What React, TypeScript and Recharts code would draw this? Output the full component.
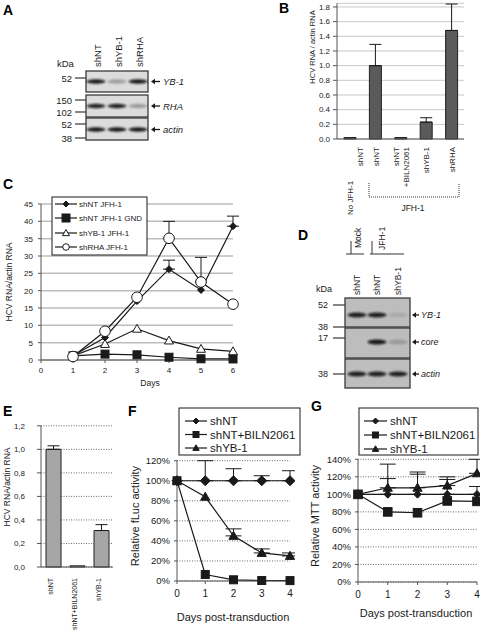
import React from 'react';
import { BarChart, Bar, LineChart, Line, XAxis, YAxis, CartesianGrid, ErrorBar } from 'recharts';

const FONT = '"Liberation Sans", Arial, Helvetica, sans-serif';
const INK = '#1a1a1a';

// ---------------- Panel A (western blot) ----------------
const aLanes = ['shNT', 'shYB-1', 'shRHA'];
const aTargets = ['YB-1', 'RHA', 'actin'];
const aIntensity = [
  [0.95, 0.3, 0.95],
  [0.9, 0.9, 0.3],
  [0.95, 0.95, 0.95],
];
const aMarkerLabels = ['52', '150', '102', '52', '38'];

// ---------------- Panel B ----------------
const bKeys = ['noJFH_shNT', 'shNT', 'shNT_BILN2061', 'shYB-1', 'shRHA'];
const bLabelLines = [['shNT'], ['shNT'], ['shNT', '+BILN2061'], ['shYB-1'], ['shRHA']];
const bValues = [0.02, 1.0, 0.02, 0.23, 1.48];
const bErrors = [0, 0.29, 0, 0.06, 0.36];
const bTicks = [0, 0.2, 0.4, 0.6, 0.8, 1.0, 1.2, 1.4, 1.6, 1.8];
const bNoVirusLabel = 'No JFH-1';
const bGroupLabel = 'JFH-1';
const bYTitle = 'HCV RNA / actin RNA';

// ---------------- Panel C ----------------
const cDays = [1, 2, 3, 4, 5, 6];
const cShNT = [1.2, 6.5, 17.0, 26.2, 20.2, 38.6];
const cShNTErr = [0, 0, 0, 2.6, 0, 2.9];
const cGND = [1.2, 1.7, 1.5, 0.8, 0.35, 0.3];
const cShYB1 = [1.2, 4.6, 9.0, 5.6, 3.2, 2.5];
const cShRHA = [1.0, 8.3, 18.1, 35.1, 22.5, 16.1];
const cShRHAErr = [0, 0, 0, 4.9, 7.1, 0];
const cYTicks = [0, 5, 10, 15, 20, 25, 30, 35, 40, 45];
const cXTicks = [0, 1, 2, 3, 4, 5, 6];
const cLegendLabels = ['shNT JFH-1', 'shNT JFH-1 GND', 'shYB-1 JFH-1', 'shRHA JFH-1'];
const cYTitle = 'HCV RNA/actin RNA';
const cXTitle = 'Days';

// ---------------- Panel D (western blot) ----------------
const dLanes = ['shNT', 'shNT', 'shYB-1'];
const dGroups = ['Mock', 'JFH-1'];
const dTargets = ['YB-1', 'core', 'actin'];
const dIntensity = [
  [0.9, 0.9, 0.1],
  [0, 0.95, 0.2],
  [0.9, 0.9, 0.9],
];
const dMarkerLabels = ['52', '38', '17', '38'];

// ---------------- Panel E ----------------
const eKeys = ['shNT', 'shNT+BILN2061', 'shYB-1'];
const eValues = [1.0, 0.01, 0.31];
const eErrors = [0.03, 0, 0.05];
const eTicks = [0, 0.2, 0.4, 0.6, 0.8, 1.0, 1.2];
const eYTitle = 'HCV RNA/actin RNA';

// ---------------- Panel F ----------------
const fDays = [0, 1, 2, 3, 4];
const fShNT = [100, 100, 100, 100, 100];
const fShNTErr = [0, 20, 12, 5, 10];
const fBILN = [100, 6.5, 1.2, 0.5, 0.4];
const fShYB1 = [100, 84, 45, 28, 25];
const fShYB1Err = [0, 0, 7, 4, 3];
const fYTicks = [0, 20, 40, 60, 80, 100, 120];
const fYTitle = 'Relative fLuc activity';

// ---------------- Panel G ----------------
const gDays = [0, 1, 2, 3, 4];
const gShNT = [100, 100, 100, 100, 100];
const gShNTErr = [0, 18, 23, 17, 9];
const gBILN = [100, 80, 79, 92.5, 92];
const gShYB1 = [100, 107.5, 107.5, 110, 124];
const gShYB1Err = [0, 27, 18, 10, 16];
const gYTicks = [0, 20, 40, 60, 80, 100, 120, 140];
const gYTitle = 'Relative MTT activity';

const fgXTicks = [0, 1, 2, 3, 4];
const fgXTitle = 'Days post-transduction';
const fgLegendLabels = ['shNT', 'shNT+BILN2061', 'shYB-1'];

// ---------------- data tables ----------------
const errOrNull = (e: number) => (e ? [0, e] : null);

const bData = bKeys.map((k, i) => ({ name: k, value: bValues[i], err: errOrNull(bErrors[i]) }));
const eData = eKeys.map((k, i) => ({ name: k, value: eValues[i], err: errOrNull(eErrors[i]) }));
const cData = cDays.map((d, i) => ({
  day: d,
  nt: cShNT[i],
  ntErr: errOrNull(cShNTErr[i]),
  gnd: cGND[i],
  yb: cShYB1[i],
  rha: cShRHA[i],
  rhaErr: errOrNull(cShRHAErr[i]),
}));
const fData = fDays.map((d, i) => ({
  day: d,
  nt: fShNT[i],
  ntErr: errOrNull(fShNTErr[i]),
  biln: fBILN[i],
  yb: fShYB1[i],
  ybErr: errOrNull(fShYB1Err[i]),
}));
const gData = gDays.map((d, i) => ({
  day: d,
  nt: gShNT[i],
  ntErr: errOrNull(gShNTErr[i]),
  biln: gBILN[i],
  yb: gShYB1[i],
  ybErr: errOrNull(gShYB1Err[i]),
}));

// ---------------- markers ----------------
type Kind = 'diamond' | 'square' | 'triangle' | 'circle';

function MarkerShape({ kind, cx, cy, r, filled }: { kind: Kind; cx: number; cy: number; r: number; filled: boolean }) {
  const fill = filled ? INK : '#fff';
  const sw = 1;
  if (kind === 'diamond') {
    return <polygon points={`${cx},${cy - r} ${cx + r},${cy} ${cx},${cy + r} ${cx - r},${cy}`} fill={fill} stroke={INK} strokeWidth={sw} />;
  }
  if (kind === 'square') {
    return <rect x={cx - r} y={cy - r} width={2 * r} height={2 * r} fill={fill} stroke={INK} strokeWidth={sw} />;
  }
  if (kind === 'triangle') {
    return (
      <polygon
        points={`${cx},${cy - r} ${cx + r},${cy + r * 0.75} ${cx - r},${cy + r * 0.75}`}
        fill={fill}
        stroke={INK}
        strokeWidth={sw}
      />
    );
  }
  return <circle cx={cx} cy={cy} r={r} fill={fill} stroke={INK} strokeWidth={sw} />;
}

function makeDot(kind: Kind, r: number, filled: boolean) {
  return (p: any) => {
    const { cx, cy, index } = p;
    if (cx == null || cy == null) return <g key={`e${index}`} />;
    return (
      <g key={`d${index}`}>
        <MarkerShape kind={kind} cx={cx} cy={cy} r={r} filled={filled} />
      </g>
    );
  };
}

// ---------------- custom ticks ----------------
const BTick = (props: any) => {
  const { x, y, payload } = props;
  const i = payload.index;
  const lines = bLabelLines[i];
  const fs = 8;
  const items: any[] = [];
  if (i === 0) {
    items.push({ t: lines[0], x: x + 11, y, anchor: 'end' });
    items.push({ t: bNoVirusLabel, x: x + 1, y: y + 68, anchor: 'start' });
  } else if (lines.length === 2) {
    items.push({ t: lines[0], x: x - 4, y, anchor: 'end' });
    items.push({ t: lines[1], x: x + 6, y, anchor: 'end' });
  } else {
    items.push({ t: lines[0], x: x + 1, y, anchor: 'end' });
  }
  return (
    <g>
      {items.map((it, k) => (
        <text
          key={k}
          x={it.x}
          y={it.y}
          transform={`rotate(-90 ${it.x} ${it.y})`}
          textAnchor={it.anchor}
          dominantBaseline="central"
          fontSize={fs}
          fill={INK}
          fontFamily={FONT}
        >
          {it.t}
        </text>
      ))}
    </g>
  );
};

const ETick = (props: any) => {
  const { x, y, payload } = props;
  const tx = x - 3;
  return (
    <text
      x={tx}
      y={y}
      transform={`rotate(-90 ${tx} ${y})`}
      textAnchor="end"
      dominantBaseline="central"
      fontSize={7}
      fill={INK}
      fontFamily={FONT}
    >
      {payload.value}
    </text>
  );
};

// ---------------- overlay helpers ----------------
function Legend({ x, y, w, h, rows, labels, kinds, fills, rs, lineX1, lineX2, textX, fs }: any) {
  return (
    <g>
      <rect x={x} y={y} width={w} height={h} fill="#fff" stroke={INK} strokeWidth={1} />
      {labels.map((lab: string, i: number) => (
        <g key={lab}>
          <line x1={lineX1} x2={lineX2} y1={rows[i]} y2={rows[i]} stroke={INK} strokeWidth={1.2} />
          <MarkerShape kind={kinds[i]} cx={(lineX1 + lineX2) / 2} cy={rows[i]} r={rs[i]} filled={fills[i]} />
          <text x={textX} y={rows[i]} dominantBaseline="central" fontSize={fs} fill={INK} fontFamily={FONT}>
            {lab}
          </text>
        </g>
      ))}
    </g>
  );
}

function Arrow({ x1, x2, y }: { x1: number; x2: number; y: number }) {
  return (
    <g>
      <line x1={x1} x2={x2 + 3} y1={y} y2={y} stroke={INK} strokeWidth={1.3} />
      <polygon points={`${x2},${y} ${x2 + 4},${y - 2.8} ${x2 + 4},${y + 2.8}`} fill={INK} />
    </g>
  );
}

function Blot({ boxX, boxW, rowY, rowH, bandY, laneX, intensity, bg, bandW, bandH }: any) {
  return (
    <g>
      {rowY.map((ry: number, r: number) => (
        <g key={r}>
          <rect x={boxX} y={ry} width={boxW} height={rowH[r]} fill={bg} stroke="#3a3a3a" strokeWidth={1.3} />
          {laneX.map((lx: number, j: number) =>
            intensity[r][j] > 0 ? (
              <ellipse
                key={j}
                cx={lx}
                cy={bandY[r]}
                rx={bandW / 2}
                ry={bandH / 2}
                fill="#111"
                opacity={intensity[r][j]}
                filter="url(#blotBlur)"
              />
            ) : null
          )}
        </g>
      ))}
    </g>
  );
}

const rotText = (t: string, x: number, y: number, anchor: string, fs: number, extra: any = {}) => (
  <text
    x={x}
    y={y}
    transform={`rotate(-90 ${x} ${y})`}
    textAnchor={anchor as any}
    dominantBaseline="central"
    fontSize={fs}
    fill={INK}
    fontFamily={FONT}
    {...extra}
  >
    {t}
  </text>
);

function Overlay() {
  // Panel A layout
  const aLaneX = [96, 117, 138];
  const aRowY = [71, 95, 118];
  const aRowH = [21, 22, 22];
  const aBandY = [81.5, 106, 129.5];
  const aMarkerY = [78, 100, 112, 124, 138];
  // Panel D layout
  const dLaneX = [357, 377, 398];
  const dRowY = [298, 328, 359];
  const dRowH = [29, 30, 29];
  const dBandY = [315, 342, 374];
  const dMarkerY = [305, 327, 338, 374];

  return (
    <svg width={480} height={634} style={{ position: 'absolute', left: 0, top: 0, pointerEvents: 'none' }} fontFamily={FONT}>
      <defs>
        <filter id="blotBlur" x="-50%" y="-100%" width="200%" height="300%">
          <feGaussianBlur stdDeviation="1.1" />
        </filter>
      </defs>

      {/* panel letters */}
      {[
        ['A', 3, 15],
        ['B', 279, 13],
        ['C', 3, 189],
        ['D', 298, 240],
        ['E', 3, 416],
        ['F', 128, 416],
        ['G', 311, 411],
      ].map(([t, x, y]: any) => (
        <text key={t} x={x} y={y} fontSize={14} fontWeight="bold" fill="#000" fontFamily={FONT}>
          {t}
        </text>
      ))}

      {/* ---- Panel A ---- */}
      {aLanes.map((l, j) => rotText(l, aLaneX[j] + 1, 67, 'start', 9.5, { key: 'al' + j }))}
      <text x={57} y={67} fontSize={9.5} fill={INK}>kDa</text>
      {aMarkerLabels.map((m, k) => (
        <g key={'am' + k}>
          <text x={72} y={aMarkerY[k]} textAnchor="end" dominantBaseline="central" fontSize={9.5} fill={INK}>
            {m}
          </text>
          <line x1={75} x2={86} y1={aMarkerY[k]} y2={aMarkerY[k]} stroke="#444" strokeWidth={1.3} />
        </g>
      ))}
      <Blot boxX={86} boxW={62} rowY={aRowY} rowH={aRowH} bandY={aBandY} laneX={aLaneX} intensity={aIntensity} bg="#dcdcdc" bandW={19} bandH={4.5} />
      {aTargets.map((t, k) => (
        <g key={'at' + k}>
          <Arrow x1={160} x2={151} y={aBandY[k]} />
          <text x={163} y={aBandY[k]} dominantBaseline="central" fontSize={9.5} fontStyle="italic" fill={INK}>
            {t}
          </text>
        </g>
      ))}

      {/* ---- Panel B extras ---- */}
      {rotText(bYTitle, 312, 47, 'middle', 7.5)}
      <path d="M369,183 V197 H459 V183" fill="none" stroke="#333" strokeWidth={1} strokeDasharray="1 1" />
      <text x={413} y={208} textAnchor="middle" dominantBaseline="central" fontSize={8.5} fill={INK}>
        {bGroupLabel}
      </text>

      {/* ---- Panel C extras ---- */}
      {rotText(cYTitle, 9, 282, 'middle', 8.5)}
      <text x={150} y={383} textAnchor="middle" dominantBaseline="central" fontSize={8.5} fill={INK}>
        {cXTitle}
      </text>
      <Legend
        x={52}
        y={197}
        w={95}
        h={58}
        rows={[204, 218, 233, 247]}
        labels={cLegendLabels}
        kinds={['diamond', 'square', 'triangle', 'circle']}
        fills={[true, true, false, false]}
        rs={[3, 4, 3.5, 3.3]}
        lineX1={55}
        lineX2={77}
        textX={79}
        fs={8}
      />

      {/* ---- Panel D ---- */}
      {rotText(dGroups[0], 358, 248, 'start', 8.5, { key: 'dg0' })}
      {rotText(dGroups[1], 382, 250, 'start', 8.5, { key: 'dg1' })}
      <path d="M351,241 V254 M346,254 H364" fill="none" stroke="#333" strokeWidth={1} />
      <path d="M372,241 V254 M370,254 H404" fill="none" stroke="#333" strokeWidth={1} />
      {dLanes.map((l, j) => rotText(l, dLaneX[j], 295, 'start', 8.5, { key: 'dl' + j }))}
      <text x={316} y={292} fontSize={9} fill={INK}>kDa</text>
      {dMarkerLabels.map((m, k) => (
        <g key={'dm' + k}>
          <text x={328} y={dMarkerY[k]} textAnchor="end" dominantBaseline="central" fontSize={9} fill={INK}>
            {m}
          </text>
          <line x1={333} x2={345} y1={dMarkerY[k]} y2={dMarkerY[k]} stroke="#444" strokeWidth={1.3} />
        </g>
      ))}
      <Blot boxX={345} boxW={65} rowY={dRowY} rowH={dRowH} bandY={dBandY} laneX={dLaneX} intensity={dIntensity} bg="#bdbdbd" bandW={19} bandH={5} />
      {dTargets.map((t, k) => (
        <g key={'dt' + k}>
          <Arrow x1={419} x2={412} y={dBandY[k]} />
          <text x={421} y={dBandY[k]} dominantBaseline="central" fontSize={9} fontStyle="italic" fill={INK}>
            {t}
          </text>
        </g>
      ))}

      {/* ---- Panel E extras ---- */}
      {rotText(eYTitle, 7, 487, 'middle', 8.5)}

      {/* ---- Panel F extras ---- */}
      {rotText(fYTitle, 135, 516, 'middle', 11)}
      <text x={233} y={617} textAnchor="middle" dominantBaseline="central" fontSize={11} fill={INK}>
        {fgXTitle}
      </text>
      <Legend
        x={179}
        y={408}
        w={121}
        h={47}
        rows={[421, 434.5, 448]}
        labels={fgLegendLabels}
        kinds={['diamond', 'square', 'triangle']}
        fills={[true, true, true]}
        rs={[3, 3, 3.2]}
        lineX1={185}
        lineX2={207}
        textX={210}
        fs={11.5}
      />

      {/* ---- Panel G extras ---- */}
      {rotText(gYTitle, 315, 516, 'middle', 11)}
      <text x={416} y={613} textAnchor="middle" dominantBaseline="central" fontSize={11} fill={INK}>
        {fgXTitle}
      </text>
      <Legend
        x={359}
        y={408}
        w={119}
        h={47}
        rows={[421, 435, 449]}
        labels={fgLegendLabels}
        kinds={['diamond', 'square', 'triangle']}
        fills={[true, true, true]}
        rs={[3, 3, 3.2]}
        lineX1={364}
        lineX2={387}
        textX={390}
        fs={11.5}
      />
    </svg>
  );
}

const axisStyle = { stroke: '#555' };

export default function App() {
  return (
    <div style={{ position: 'absolute', left: 0, top: 0, width: 480, height: 634, background: '#fff', overflow: 'hidden', fontFamily: FONT }}>
      {/* Panel B */}
      <div style={{ position: 'absolute', left: 300, top: 0 }}>
        <BarChart width={180} height={220} data={bData} margin={{ top: 3.3, right: 16, left: 0, bottom: 0 }} barSize={12}>
          <CartesianGrid vertical={false} stroke="#c8c8c8" strokeWidth={1} />
          <XAxis dataKey="name" height={81} interval={0} tick={<BTick />} tickSize={0} tickMargin={8} axisLine={axisStyle} tickLine={false} />
          <YAxis
            width={37}
            domain={[0, 1.85]}
            ticks={bTicks}
            interval={0}
            tickFormatter={(v: number) => v.toFixed(1)}
            tick={{ fontSize: 8, fill: INK, fontFamily: FONT }}
            tickSize={4}
            tickMargin={3}
            axisLine={axisStyle}
            tickLine={axisStyle}
          />
          <Bar dataKey="value" fill="#5a5a5a" stroke="#222" strokeWidth={1} isAnimationActive={false}>
            <ErrorBar dataKey="err" width={6} stroke={INK} strokeWidth={1} direction="y" />
          </Bar>
        </BarChart>
      </div>

      {/* Panel C */}
      <div style={{ position: 'absolute', left: 0, top: 195 }}>
        <LineChart width={245} height={200} data={cData} margin={{ top: 9, right: 12, left: 0, bottom: 0 }}>
          <CartesianGrid vertical={false} stroke="#bdbdbd" strokeWidth={1.5} />
          <XAxis
            dataKey="day"
            type="number"
            domain={[0, 6]}
            ticks={cXTicks}
            interval={0}
            height={35}
            tick={{ fontSize: 8, fill: INK, fontFamily: FONT }}
            tickSize={3}
            tickMargin={4}
            axisLine={axisStyle}
            tickLine={axisStyle}
          />
          <YAxis
            width={41}
            domain={[0, 45]}
            ticks={cYTicks}
            interval={0}
            tick={{ fontSize: 8, fill: INK, fontFamily: FONT }}
            tickSize={3}
            tickMargin={5}
            axisLine={axisStyle}
            tickLine={axisStyle}
          />
          <Line type="linear" dataKey="gnd" stroke={INK} strokeWidth={1.2} dot={makeDot('square', 4, true)} activeDot={false} isAnimationActive={false} />
          <Line type="linear" dataKey="yb" stroke={INK} strokeWidth={1.2} dot={makeDot('triangle', 4.5, false)} activeDot={false} isAnimationActive={false} />
          <Line type="linear" dataKey="nt" stroke={INK} strokeWidth={1.2} dot={makeDot('diamond', 3.5, true)} activeDot={false} isAnimationActive={false}>
            <ErrorBar dataKey="ntErr" width={6} stroke={INK} strokeWidth={1} direction="y" />
          </Line>
          <Line type="linear" dataKey="rha" stroke={INK} strokeWidth={1.2} dot={makeDot('circle', 5.3, false)} activeDot={false} isAnimationActive={false}>
            <ErrorBar dataKey="rhaErr" width={6} stroke={INK} strokeWidth={1} direction="y" />
          </Line>
        </LineChart>
      </div>

      {/* Panel E */}
      <div style={{ position: 'absolute', left: 0, top: 420 }}>
        <BarChart width={120} height={214} data={eData} margin={{ top: 5.8, right: 7, left: 0, bottom: 0 }} barSize={15}>
          <CartesianGrid vertical={false} stroke="#444" strokeWidth={0.8} strokeDasharray="1 1.5" />
          <XAxis dataKey="name" height={67} interval={0} tick={<ETick />} tickSize={0} tickMargin={11} axisLine={axisStyle} tickLine={false} />
          <YAxis
            width={41}
            domain={[0, 1.2]}
            ticks={eTicks}
            interval={0}
            tickFormatter={(v: number) => v.toFixed(1).replace('.', ',')}
            tick={{ fontSize: 8, fill: INK, fontFamily: FONT }}
            tickSize={4}
            tickMargin={12}
            axisLine={axisStyle}
            tickLine={axisStyle}
          />
          <Bar dataKey="value" fill="#a6a6a6" stroke="#222" strokeWidth={1} isAnimationActive={false}>
            <ErrorBar dataKey="err" width={6} stroke={INK} strokeWidth={1} direction="y" />
          </Bar>
        </BarChart>
      </div>

      {/* Panel F */}
      <div style={{ position: 'absolute', left: 120, top: 455 }}>
        <LineChart width={175} height={179} data={fData} margin={{ top: 5.7, right: 5, left: 0, bottom: 0 }}>
          <CartesianGrid vertical={false} stroke="#444" strokeWidth={0.8} strokeDasharray="1 1.5" />
          <XAxis
            dataKey="day"
            type="number"
            domain={[0, 4]}
            ticks={fgXTicks}
            interval={0}
            height={53}
            tick={{ fontSize: 10, fill: INK, fontFamily: FONT }}
            tickSize={3}
            tickMargin={6}
            axisLine={axisStyle}
            tickLine={axisStyle}
          />
          <YAxis
            width={57}
            domain={[0, 120]}
            ticks={fYTicks}
            interval={0}
            tickFormatter={(v: number) => `${v}%`}
            tick={{ fontSize: 9.5, fill: INK, fontFamily: FONT }}
            tickSize={3}
            tickMargin={4}
            axisLine={axisStyle}
            tickLine={axisStyle}
          />
          <Line type="linear" dataKey="biln" stroke={INK} strokeWidth={1.2} dot={makeDot('square', 4, true)} activeDot={false} isAnimationActive={false} />
          <Line type="linear" dataKey="yb" stroke={INK} strokeWidth={1.2} dot={makeDot('triangle', 4.6, true)} activeDot={false} isAnimationActive={false}>
            <ErrorBar dataKey="ybErr" width={8} stroke={INK} strokeWidth={1} direction="y" />
          </Line>
          <Line type="linear" dataKey="nt" stroke={INK} strokeWidth={1.2} dot={makeDot('diamond', 5, true)} activeDot={false} isAnimationActive={false}>
            <ErrorBar dataKey="ntErr" width={8} stroke={INK} strokeWidth={1} direction="y" />
          </Line>
        </LineChart>
      </div>

      {/* Panel G */}
      <div style={{ position: 'absolute', left: 300, top: 453 }}>
        <LineChart width={180} height={181} data={gData} margin={{ top: 6.3, right: 3, left: 0, bottom: 0 }}>
          <CartesianGrid vertical={false} stroke="#444" strokeWidth={0.8} strokeDasharray="1 1.5" />
          <XAxis
            dataKey="day"
            type="number"
            domain={[0, 4]}
            ticks={fgXTicks}
            interval={0}
            height={52}
            tick={{ fontSize: 10, fill: INK, fontFamily: FONT }}
            tickSize={3}
            tickMargin={6}
            axisLine={axisStyle}
            tickLine={axisStyle}
          />
          <YAxis
            width={58}
            domain={[0, 140]}
            ticks={gYTicks}
            interval={0}
            tickFormatter={(v: number) => `${v}%`}
            tick={{ fontSize: 9.5, fill: INK, fontFamily: FONT }}
            tickSize={3}
            tickMargin={4}
            axisLine={axisStyle}
            tickLine={axisStyle}
          />
          <Line type="linear" dataKey="nt" stroke={INK} strokeWidth={1.2} dot={makeDot('diamond', 3.8, true)} activeDot={false} isAnimationActive={false}>
            <ErrorBar dataKey="ntErr" width={8} stroke={INK} strokeWidth={1} direction="y" />
          </Line>
          <Line type="linear" dataKey="yb" stroke={INK} strokeWidth={1.2} dot={makeDot('triangle', 4.6, true)} activeDot={false} isAnimationActive={false}>
            <ErrorBar dataKey="ybErr" width={8} stroke={INK} strokeWidth={1} direction="y" />
          </Line>
          <Line type="linear" dataKey="biln" stroke={INK} strokeWidth={1.2} dot={makeDot('square', 4.3, true)} activeDot={false} isAnimationActive={false} />
        </LineChart>
      </div>

      <Overlay />
    </div>
  );
}
